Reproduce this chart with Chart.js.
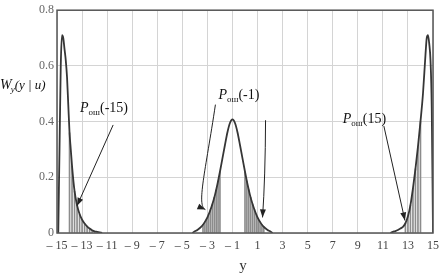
<!DOCTYPE html>
<html>
<head>
<meta charset="utf-8">
<script src="https://cdn.jsdelivr.net/npm/chart.js@4/dist/chart.umd.min.js"></script>
<style>
  body { margin: 0; background: #fff; }
  #wrap { width: 446px; height: 278px; position: relative; }
</style>
</head>
<body>
<div id="wrap"><canvas id="chart"></canvas></div>
<script>
// tick labels
const xTicks = [-15, -13, -11, -9, -7, -5, -3, -1, 1, 3, 5, 7, 9, 11, 13, 15];
const yTicks = [0, 0.2, 0.4, 0.6, 0.8];

// curve around -15
const leftX = [-14.9, -14.8, -14.7, -14.6, -14.5, -14.4, -14.3, -14.2, -14.1, -14.0, -13.9, -13.8, -13.6, -13.4, -13.2, -13.0, -12.8, -12.6, -12.4, -12.2, -12.0, -11.8, -11.6, -11.4];
const leftY = [0, 0.30, 0.60, 0.71, 0.70, 0.66, 0.62, 0.56, 0.46, 0.36, 0.30, 0.24, 0.15, 0.10, 0.068, 0.048, 0.034, 0.024, 0.016, 0.010, 0.006, 0.004, 0.002, 0];

// curve around -1
const midX = [-4.2, -4.0, -3.8, -3.6, -3.4, -3.2, -3.0, -2.8, -2.6, -2.4, -2.2, -2.0, -1.8, -1.6, -1.4, -1.2, -1.0, -0.8, -0.6, -0.4, -0.2, 0.0, 0.2, 0.4, 0.6, 0.8, 1.0, 1.2, 1.4, 1.6, 1.8, 2.0, 2.2];
const midY = [0, 0.006, 0.011, 0.018, 0.027, 0.040, 0.056, 0.078, 0.104, 0.136, 0.175, 0.220, 0.268, 0.316, 0.362, 0.395, 0.408, 0.395, 0.362, 0.316, 0.268, 0.220, 0.175, 0.136, 0.104, 0.078, 0.056, 0.040, 0.027, 0.018, 0.011, 0.006, 0];

// curve around 15
const rightX = [11.6, 11.8, 12.0, 12.2, 12.4, 12.6, 12.8, 13.0, 13.2, 13.4, 13.6, 13.8, 14.0, 14.2, 14.4, 14.5, 14.6, 14.7, 14.8, 14.9, 15.0];
const rightY = [0, 0.004, 0.007, 0.011, 0.016, 0.022, 0.035, 0.06, 0.10, 0.16, 0.23, 0.31, 0.40, 0.50, 0.64, 0.70, 0.71, 0.68, 0.62, 0.45, 0];

// hatched error areas
const hatchLX = [-14.0, -13.8, -13.6, -13.4, -13.2, -13.0, -12.8, -12.6, -12.4, -12.2, -12.0, -11.8];
const hatchLY = [0.36, 0.24, 0.15, 0.10, 0.068, 0.048, 0.034, 0.024, 0.016, 0.010, 0.006, 0.004];
const hatchMX = [-3.35, -3.2, -3.05, -2.9, -2.75, -2.6, -2.45, -2.3, -2.15, -2.0, 0.0, 0.15, 0.3, 0.45, 0.6, 0.75, 0.9, 1.05, 1.2, 1.35, 1.5];
const hatchMY = [0.030, 0.040, 0.052, 0.067, 0.084, 0.104, 0.128, 0.155, 0.186, 0.220, 0.220, 0.186, 0.155, 0.128, 0.104, 0.084, 0.067, 0.052, 0.040, 0.030, 0.022];
const hatchRX = [12.8, 13.0, 13.2, 13.4, 13.6, 13.8, 14.0];
const hatchRY = [0.035, 0.06, 0.10, 0.16, 0.23, 0.31, 0.40];

function pts(xs, ys) { return xs.map((x, i) => ({ x: x, y: ys[i] })); }

const curveColor = '#363636';
const hatchColor = '#8c8c8c';

function lineSet(xs, ys) {
  return {
    type: 'line', data: pts(xs, ys), borderColor: curveColor, borderWidth: 1.8,
    pointRadius: 0, cubicInterpolationMode: 'monotone', fill: false, order: 0
  };
}
function hatchSet(xs, ys) {
  return {
    type: 'bar', data: pts(xs, ys), backgroundColor: hatchColor,
    barThickness: 1, grouped: false, order: 1
  };
}

// labels with arrows, in data coordinates
const labels = [
  { x: -13.16, y: 0.433, arg: '(-15)' },
  { x: -2.12, y: 0.482, arg: '(-1)' },
  { x: 7.8, y: 0.395, arg: '(15)' }
];

const drawExtras = {
  id: 'extras',
  afterDatasetsDraw(chart) {
    const ctx = chart.ctx;
    const a = chart.chartArea;
    const xs = chart.scales.x, ys = chart.scales.y;
    const px = v => xs.getPixelForValue(v);
    const py = v => ys.getPixelForValue(v);
    ctx.save();

    // frame
    ctx.strokeStyle = '#555';
    ctx.lineWidth = 1.5;
    ctx.strokeRect(a.left, a.top, a.right - a.left, a.bottom - a.top);

    // arrows
    ctx.strokeStyle = '#222';
    ctx.fillStyle = '#222';
    ctx.lineWidth = 1;
    function head(fx, fy, tx, ty) {
      const ang = Math.atan2(ty - fy, tx - fx);
      ctx.beginPath();
      ctx.moveTo(tx, ty);
      ctx.lineTo(tx - 8 * Math.cos(ang) + 3 * Math.sin(ang), ty - 8 * Math.sin(ang) - 3 * Math.cos(ang));
      ctx.lineTo(tx - 8 * Math.cos(ang) - 3 * Math.sin(ang), ty - 8 * Math.sin(ang) + 3 * Math.cos(ang));
      ctx.closePath();
      ctx.fill();
    }
    // arrow to left curve
    let x0 = px(-10.52), y0 = py(0.388), x1 = px(-13.4), y1 = py(0.098);
    ctx.beginPath(); ctx.moveTo(x0, y0); ctx.lineTo(x1, y1); ctx.stroke();
    head(x0, y0, x1, y1);
    // hooked arrow to middle left tail
    x0 = px(-2.36); y0 = py(0.461);
    const c1x = px(-3.16), c1y = py(0.22), c2x = px(-3.88), c2y = py(0.098);
    x1 = px(-3.16); y1 = py(0.084);
    ctx.beginPath(); ctx.moveTo(x0, y0); ctx.bezierCurveTo(c1x, c1y, c2x, c2y, x1, y1); ctx.stroke();
    head(c2x, c2y, x1, y1);
    // arrow to middle right tail
    x0 = px(1.64); y0 = py(0.405); x1 = px(1.40); y1 = py(0.056);
    ctx.beginPath(); ctx.moveTo(x0, y0); ctx.quadraticCurveTo(px(1.62), py(0.2), x1, y1); ctx.stroke();
    head(px(1.5), py(0.15), x1, y1);
    // arrow to right curve
    x0 = px(11.08); y0 = py(0.384); x1 = px(12.76); y1 = py(0.045);
    ctx.beginPath(); ctx.moveTo(x0, y0); ctx.lineTo(x1, y1); ctx.stroke();
    head(x0, y0, x1, y1);

    // P labels
    ctx.fillStyle = '#111';
    ctx.textBaseline = 'alphabetic';
    ctx.textAlign = 'left';
    labels.forEach(l => {
      let x = px(l.x), y = py(l.y);
      ctx.font = 'italic 14px "Liberation Serif", serif';
      ctx.fillText('P', x, y);
      x += ctx.measureText('P').width;
      ctx.font = '9px "Liberation Serif", serif';
      ctx.fillText('ош', x, y + 3);
      x += ctx.measureText('ош').width;
      ctx.font = '14px "Liberation Serif", serif';
      ctx.fillText(l.arg, x, y);
    });

    // y axis title
    let tx = 0, ty = 89;
    ctx.font = 'italic 14px "Liberation Serif", serif';
    ctx.fillText('W', tx, ty);
    tx += ctx.measureText('W').width - 1;
    ctx.font = 'italic 9px "Liberation Serif", serif';
    ctx.fillText('y', tx, ty + 3);
    tx += ctx.measureText('y').width;
    ctx.font = 'italic 13px "Liberation Serif", serif';
    ctx.fillText('(y | u)', tx, ty);

    // x axis title
    ctx.font = '15px "Liberation Serif", serif';
    ctx.fillStyle = '#333';
    ctx.textAlign = 'center';
    ctx.fillText('y', (a.left + a.right) / 2 - 2, 270);
    ctx.restore();
  }
};

new Chart(document.getElementById('chart'), {
  type: 'line',
  data: {
    datasets: [
      lineSet(leftX, leftY),
      lineSet(midX, midY),
      lineSet(rightX, rightY),
      hatchSet(hatchLX, hatchLY),
      hatchSet(hatchMX, hatchMY),
      hatchSet(hatchRX, hatchRY)
    ]
  },
  options: {
    responsive: true,
    maintainAspectRatio: false,
    animation: false,
    layout: { padding: { left: 0, right: 13, top: 4, bottom: 0 } },
    plugins: { legend: { display: false }, tooltip: { enabled: false } },
    scales: {
      x: {
        type: 'linear', min: -15, max: 15, offset: false,
        afterBuildTicks: s => { s.ticks = xTicks.map(v => ({ value: v })); },
        afterFit: s => { s.height = 45; },
        grid: { color: '#d4d4d4', lineWidth: 1, drawTicks: false, offset: false },
        border: { display: false },
        ticks: {
          padding: 6, color: '#444', maxRotation: 0, autoSkip: false,
          font: { family: '"Liberation Serif", serif', size: 12 },
          callback: v => v < 0 ? '\u2013 ' + Math.abs(v) : String(v)
        }
      },
      y: {
        type: 'linear', min: 0, max: 0.8,
        afterBuildTicks: s => { s.ticks = yTicks.map(v => ({ value: v })); },
        afterFit: s => { s.width = 57; },
        grid: { color: '#d4d4d4', lineWidth: 1, drawTicks: false },
        border: { display: false },
        ticks: {
          padding: 3, color: '#666',
          font: { family: '"Liberation Serif", serif', size: 12 },
          callback: v => v === 0 ? '0' : v.toFixed(1)
        }
      }
    }
  },
  plugins: [drawExtras]
});
</script>
</body>
</html>
